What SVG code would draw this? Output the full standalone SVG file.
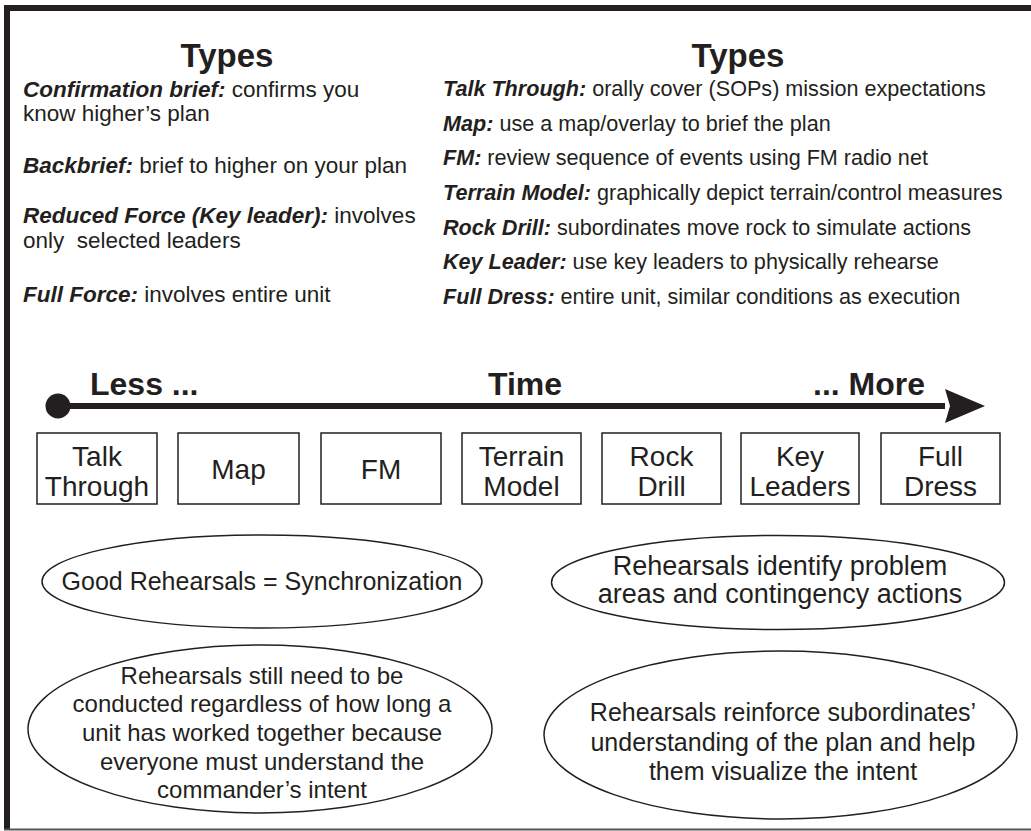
<svg xmlns="http://www.w3.org/2000/svg" width="1031" height="831" viewBox="0 0 1031 831">
<style>
  text { font-family: "Liberation Sans", Arial, sans-serif; fill: #231f20; }
  .head { font-size: 33px; font-weight: bold; text-anchor: middle; }
  .lt { font-size: 22.5px; }
  .rt { font-size: 21.6px; }
  .b { font-weight: bold; font-style: italic; }
  .tl { font-size: 32px; font-weight: bold; }
  .box rect { fill: #fff; stroke: #231f20; stroke-width: 1.5; }
  .box text { font-size: 28px; text-anchor: middle; }
  .ell ellipse { fill: #fff; stroke: #231f20; stroke-width: 1.5; }
  .ell text { text-anchor: middle; }
</style>
<defs>
  <marker id="head" markerUnits="userSpaceOnUse" markerWidth="42" markerHeight="36" refX="0" refY="18" orient="auto" viewBox="0 0 42 36">
    <polygon points="0,1 40,18 0,35 5,18" fill="#231f20"/>
  </marker>
  <marker id="dot" markerUnits="userSpaceOnUse" markerWidth="28" markerHeight="28" refX="14" refY="14" orient="auto" viewBox="0 0 28 28">
    <circle cx="14" cy="14" r="12.5" fill="#231f20"/>
  </marker>
</defs>
<rect x="0" y="0" width="1031" height="831" fill="#fff"/>
<g id="frame">
  <rect x="4" y="5" width="1027" height="6" fill="#231f20"/>
  <rect x="4" y="5" width="6" height="825" fill="#231f20"/>
  <line x1="4" y1="829.5" x2="1031" y2="829.5" stroke="#555" stroke-width="2"/>
</g>
<g id="types-left">
  <text class="head" x="227" y="67">Types</text>
  <text class="lt" x="23" y="97"><tspan class="b">Confirmation brief:</tspan> confirms you</text>
  <text class="lt" x="23" y="121">know higher’s plan</text>
  <text class="lt" x="23" y="173"><tspan class="b">Backbrief:</tspan> brief to higher on your plan</text>
  <text class="lt" x="23" y="223"><tspan class="b">Reduced Force (Key leader):</tspan> involves</text>
  <text class="lt" x="23" y="248" style="white-space:pre">only  selected leaders</text>
  <text class="lt" x="23" y="302"><tspan class="b">Full Force:</tspan> involves entire unit</text>
</g>
<g id="types-right">
  <text class="head" x="738" y="67">Types</text>
  <text class="rt" x="443" y="96"><tspan class="b">Talk Through:</tspan> orally cover (SOPs) mission expectations</text>
  <text class="rt" x="443" y="131"><tspan class="b">Map:</tspan> use a map/overlay to brief the plan</text>
  <text class="rt" x="443" y="165"><tspan class="b">FM:</tspan> review sequence of events using FM radio net</text>
  <text class="rt" x="443" y="200"><tspan class="b">Terrain Model:</tspan> graphically depict terrain/control measures</text>
  <text class="rt" x="443" y="235"><tspan class="b">Rock Drill:</tspan> subordinates move rock to simulate actions</text>
  <text class="rt" x="443" y="269"><tspan class="b">Key Leader:</tspan> use key leaders to physically rehearse</text>
  <text class="rt" x="443" y="304"><tspan class="b">Full Dress:</tspan> entire unit, similar conditions as execution</text>
</g>
<g id="timeline-labels">
  <text class="tl" x="90" y="395">Less ...</text>
  <text class="tl" x="525" y="395" text-anchor="middle">Time</text>
  <text class="tl" x="925" y="395" text-anchor="end">... More</text>
</g>
<g id="connectors">
  <line x1="58" y1="406" x2="945" y2="406" stroke="#231f20" stroke-width="6" marker-start="url(#dot)" marker-end="url(#head)"/>
</g>
<g id="box-talk" class="box"><rect x="37" y="433" width="120" height="71"/><text x="97" y="466">Talk</text><text x="97" y="496">Through</text></g>
<g id="box-map" class="box"><rect x="178" y="433" width="121" height="71"/><text x="238.5" y="479">Map</text></g>
<g id="box-fm" class="box"><rect x="321" y="433" width="120" height="71"/><text x="381" y="479">FM</text></g>
<g id="box-terrain" class="box"><rect x="462" y="433" width="119" height="71"/><text x="521.5" y="466">Terrain</text><text x="521.5" y="496">Model</text></g>
<g id="box-rock" class="box"><rect x="602" y="433" width="119" height="71"/><text x="661.5" y="466">Rock</text><text x="661.5" y="496">Drill</text></g>
<g id="box-key" class="box"><rect x="741" y="433" width="118" height="71"/><text x="800" y="466">Key</text><text x="800" y="496">Leaders</text></g>
<g id="box-full" class="box"><rect x="881" y="433" width="119" height="71"/><text x="940.5" y="466">Full</text><text x="940.5" y="496">Dress</text></g>
<g id="ell-sync" class="ell">
  <ellipse cx="262" cy="581.5" rx="220" ry="46.5"/>
  <text x="262" y="590" font-size="25">Good Rehearsals = Synchronization</text>
</g>
<g id="ell-problem" class="ell">
  <ellipse cx="778" cy="582.5" rx="226.5" ry="47"/>
  <text x="780" y="575" font-size="27">Rehearsals identify problem</text>
  <text x="780" y="603" font-size="27">areas and contingency actions</text>
</g>
<g id="ell-intent" class="ell">
  <ellipse cx="260" cy="729" rx="232" ry="84"/>
  <text x="262" y="684" font-size="24">Rehearsals still need to be</text>
  <text x="262" y="712" font-size="24">conducted regardless of how long a</text>
  <text x="262" y="741" font-size="24">unit has worked together because</text>
  <text x="262" y="770" font-size="24">everyone must understand the</text>
  <text x="262" y="798" font-size="24">commander’s intent</text>
</g>
<g id="ell-reinforce" class="ell">
  <ellipse cx="780.5" cy="735" rx="236.5" ry="84"/>
  <text x="783" y="721" font-size="25">Rehearsals reinforce subordinates’</text>
  <text x="783" y="751" font-size="25">understanding of the plan and help</text>
  <text x="783" y="780" font-size="25">them visualize the intent</text>
</g>
</svg>
